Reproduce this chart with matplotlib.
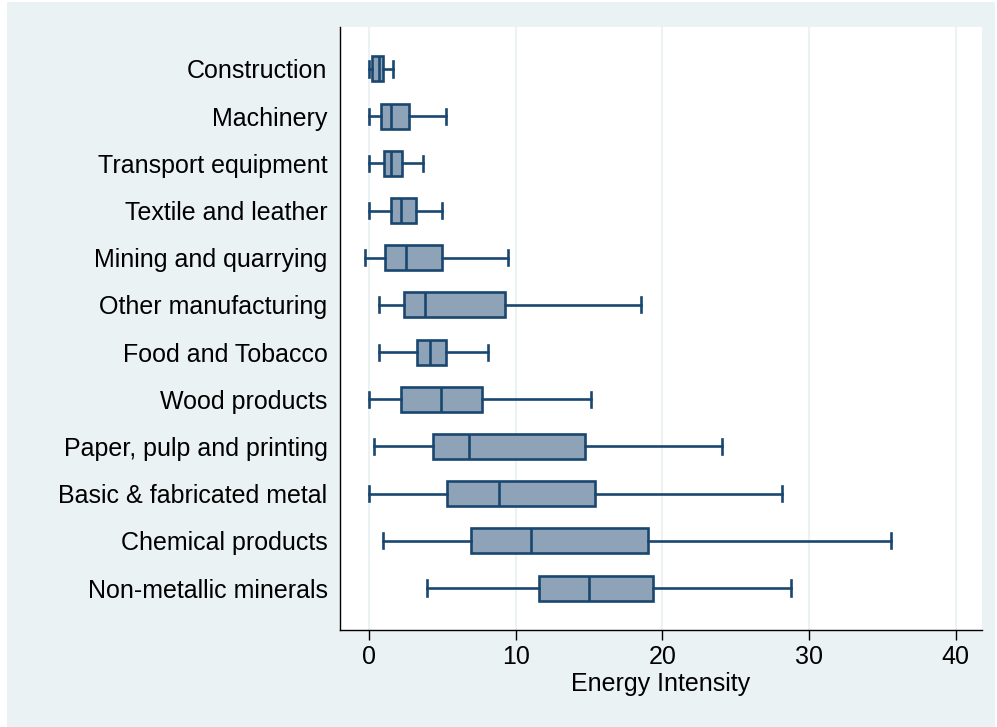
import matplotlib
matplotlib.use("Agg")
import matplotlib.pyplot as plt
from matplotlib.patches import Rectangle

plt.rcParams['font.family'] = ['Liberation Sans', 'DejaVu Sans']

# sectors, listed top to bottom
sectors = ["Construction", "Machinery", "Transport equipment", "Textile and leather",
           "Mining and quarrying", "Other manufacturing", "Food and Tobacco",
           "Wood products", "Paper, pulp and printing", "Basic & fabricated metal",
           "Chemical products", "Non-metallic minerals"]

# box plot summary per sector
whisk_lo = [0.0, 0.0, 0.0, 0.0, -0.27, 0.66, 0.70, 0.0, 0.32, 0.0, 0.95, 3.98]
q1 = [0.18, 0.82, 1.0, 1.5, 1.11, 2.36, 3.25, 2.16, 4.38, 5.3, 6.96, 11.6]
median = [0.70, 1.48, 1.5, 2.16, 2.52, 3.82, 4.16, 4.93, 6.79, 8.85, 11.05, 15.0]
q3 = [0.93, 2.75, 2.25, 3.18, 4.97, 9.29, 5.22, 7.68, 14.75, 15.41, 19.01, 19.36]
whisk_hi = [1.61, 5.25, 3.68, 5.0, 9.45, 18.56, 8.09, 15.15, 24.05, 28.18, 35.62, 28.78]

stats = []
for i in range(len(sectors)):
    stats.append({"label": sectors[i], "whislo": whisk_lo[i], "q1": q1[i],
                  "med": median[i], "q3": q3[i], "whishi": whisk_hi[i], "fliers": []})

navy = "#1a476f"
bg = "#eaf2f3"

fig = plt.figure(figsize=(9.97, 7.27), dpi=100, facecolor="white")
fig.patches.append(Rectangle((7 / 997, 0), 1 - 9 / 997, 725 / 727,
                             transform=fig.transFigure, facecolor=bg,
                             edgecolor="none", zorder=-1))
ax = fig.add_axes([340 / 997, 97 / 727, 642 / 997, 603 / 727])
ax.set_facecolor("white")

positions = list(range(1, len(sectors) + 1))
lw = 1.9
ax.bxp(stats, positions=positions, orientation="horizontal", widths=0.53,
       capwidths=0.32, showfliers=False, patch_artist=True,
       boxprops=dict(facecolor="#8fa3b8", edgecolor=navy, linewidth=lw),
       medianprops=dict(color=navy, linewidth=lw),
       whiskerprops=dict(color=navy, linewidth=lw),
       capprops=dict(color=navy, linewidth=lw))

ax.set_ylim(12.89, 0.11)
ax.set_xlim(-1.98, 41.8)
ax.set_xticks([0, 10, 20, 30, 40])
ax.grid(axis="x", color=bg, linewidth=1.5)
ax.set_axisbelow(True)

ax.set_yticks(positions)
ax.set_yticklabels(sectors)
ax.tick_params(axis="y", length=0, pad=9, labelsize=18)
ax.tick_params(axis="x", length=7, width=1, pad=4, labelsize=18)
ax.set_xlabel("Energy Intensity", fontsize=18, labelpad=2)

for side in ["top", "right"]:
    ax.spines[side].set_visible(False)
for side in ["left", "bottom"]:
    ax.spines[side].set_color("black")
    ax.spines[side].set_linewidth(1)

fig.savefig("out.png", dpi=100, facecolor=fig.get_facecolor())
